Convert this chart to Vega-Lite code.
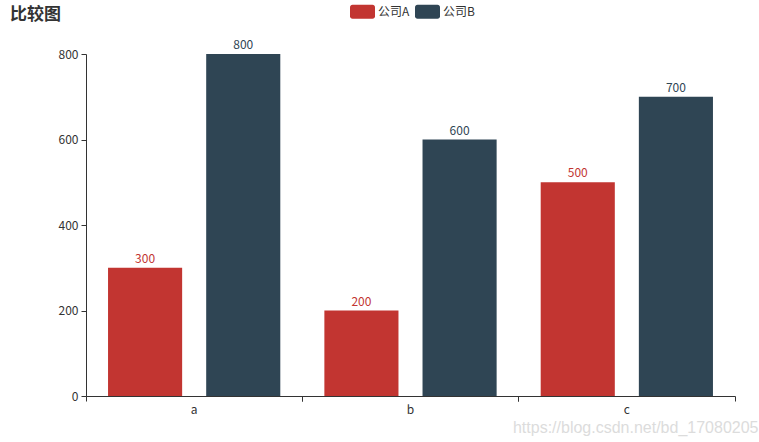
{
  "$schema": "https://vega.github.io/schema/vega-lite/v6.json",
  "width": 649,
  "height": 342,
  "autosize": "none",
  "padding": {"left": 86, "top": 54, "right": 24, "bottom": 46},
  "background": "white",
  "config": {"font": "Noto Sans CJK SC", "view": {"stroke": null}},
  "title": {"text": "比较图", "anchor": "start", "frame": "group", "dx": -76, "offset": 0, "dy": 25, "fontSize": 17, "fontWeight": "bold", "color": "#333"},
  "data": {"values": [
    {"cat": "a", "company": "公司A", "value": 300},
    {"cat": "a", "company": "公司B", "value": 800},
    {"cat": "b", "company": "公司A", "value": 200},
    {"cat": "b", "company": "公司B", "value": 600},
    {"cat": "c", "company": "公司A", "value": 500},
    {"cat": "c", "company": "公司B", "value": 700}
  ]},
  "resolve": {"axis": {"x": "independent"}},
  "encoding": {
    "xOffset": {"field": "company", "type": "nominal", "scale": {"paddingInner": 0.245, "paddingOuter": 0.2245}},
    "y": {"field": "value", "type": "quantitative", "scale": {"domain": [0, 800], "nice": false},
      "axis": {"values": [0, 200, 400, 600, 800], "grid": false, "domainColor": "#333", "tickColor": "#333", "tickSize": 5, "labelPadding": 3, "labelColor": "#333", "labelFontSize": 12, "title": null}},
    "color": {"field": "company", "type": "nominal",
      "scale": {"domain": ["公司A", "公司B"], "range": ["#c23531", "#2f4554"]},
      "legend": {"orient": "none", "legendX": 264, "legendY": -55, "direction": "horizontal", "title": null,
        "symbolType": "M-0.8,-0.56H0.8A0.2,0.2 0 0 1 1,-0.36V0.36A0.2,0.2 0 0 1 0.8,0.56H-0.8A0.2,0.2 0 0 1 -1,0.36V-0.36A0.2,0.2 0 0 1 -0.8,-0.56Z",
        "symbolSize": 625, "symbolStrokeWidth": 0, "labelFontSize": 12, "labelColor": "#333", "columnPadding": 5, "labelOffset": 3}}
  },
  "layer": [
    {
      "mark": {"type": "bar"},
      "encoding": {
        "x": {"field": "cat", "type": "nominal", "scale": {"paddingInner": 0, "paddingOuter": 0},
          "axis": {"orient": "bottom", "title": "https://blog.csdn.net/bd_17080205", "labelAngle": 0, "ticks": false, "domainColor": "#333", "labelColor": "#333", "labelFontSize": 12, "labelPadding": 8,
            "titleColor": "#dcdcdc", "titleFont": "Liberation Sans", "titleFontSize": 16, "titleFontWeight": "normal", "titleAnchor": "end", "titleAlign": "right", "titleX": 672, "titleY": 36, "titleBaseline": "alphabetic"}}
      }
    },
    {
      "mark": {"type": "text", "dy": -2, "baseline": "bottom", "fontSize": 12},
      "encoding": {
        "x": {"field": "cat", "type": "nominal", "axis": {"orient": "bottom", "bandPosition": 0, "labels": false, "domain": false, "title": null, "ticks": true, "tickColor": "#333", "tickSize": 5}},
        "text": {"field": "value", "type": "quantitative"}
      }
    },
    {
      "mark": {"type": "bar", "opacity": 0},
      "encoding": {
        "x": {"field": "cat", "type": "nominal", "axis": {"orient": "bottom", "bandPosition": 1, "labels": false, "domain": false, "title": null, "ticks": true, "tickColor": "#333", "tickSize": 5}}
      }
    }
  ]
}
